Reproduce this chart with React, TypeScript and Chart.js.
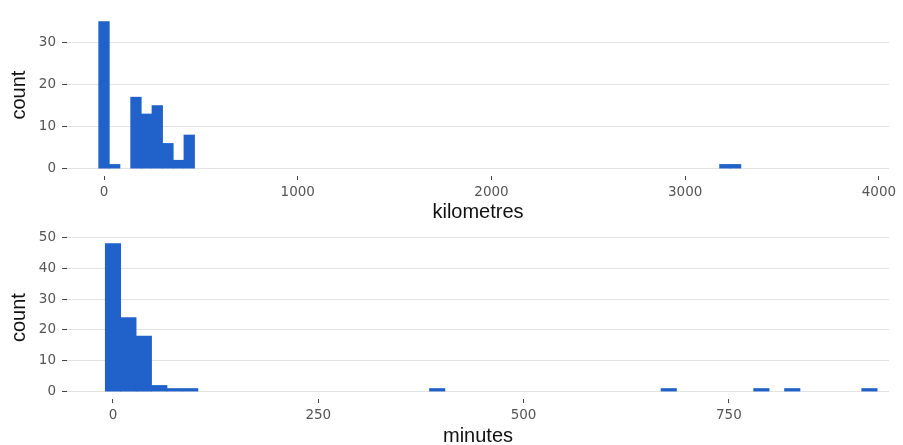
import React, { useEffect, useRef } from "react";
import { Chart, registerables } from "chart.js";

Chart.register(...registerables);

// Top panel: distance histogram (kilometres)
const kmBinCenters = [0, 55, 165, 220, 275, 330, 385, 440, 3205, 3260];
const kmCounts = [35, 1, 17, 13, 15, 6, 2, 8, 1, 1];
const kmTicks = [0, 1000, 2000, 3000, 4000];
const kmCountTicks = [0, 10, 20, 30];

// Bottom panel: duration histogram (minutes)
const minBinCenters = [0, 18.8, 37.6, 56.4, 75.2, 94, 394.8, 676.8, 789.6, 827.2, 921.2];
const minCounts = [48, 24, 18, 2, 1, 1, 1, 1, 1, 1, 1];
const minTicks = [0, 250, 500, 750];
const minCountTicks = [0, 10, 20, 30, 40, 50];

const BAR_COLOR = "#2062C9";
const GRID_COLOR = "#e2e2e2";
const TICK_MARK_COLOR = "#444444";
const TICK_LABEL_COLOR = "#555555";
const TICK_FONT = { family: "'DejaVu Sans', sans-serif", size: 13.5 };
const TITLE_FONT = { family: "'Liberation Sans', Arial, sans-serif", size: 20 };

function makeConfig(
  centers: number[],
  counts: number[],
  xTicks: number[],
  yTicks: number[],
  xMin: number,
  xMax: number,
  yMin: number,
  yMax: number,
  xTitle: string,
  padTop: number,
  titlePadBottom: number
): any {
  return {
    type: "bar",
    data: {
      datasets: [
        {
          data: centers.map((x, i) => ({ x, y: counts[i] })),
          backgroundColor: BAR_COLOR,
          borderWidth: 0,
          barPercentage: 1,
          categoryPercentage: 1,
        },
      ],
    },
    options: {
      responsive: false,
      animation: false,
      events: [],
      layout: { padding: { top: padTop, right: 14, left: 0, bottom: 0 } },
      plugins: { legend: { display: false }, tooltip: { enabled: false } },
      scales: {
        x: {
          type: "linear",
          min: xMin,
          max: xMax,
          offset: false,
          afterBuildTicks: (s: any) => {
            s.ticks = xTicks.map((v) => ({ value: v }));
          },
          afterFit: (s: any) => {
            s.height = 46;
          },
          grid: {
            offset: false,
            drawOnChartArea: false,
            drawTicks: true,
            tickLength: 4,
            tickColor: TICK_MARK_COLOR,
          },
          border: { display: false },
          ticks: {
            color: TICK_LABEL_COLOR,
            font: TICK_FONT,
            padding: 4,
            maxRotation: 0,
            autoSkip: false,
            callback: (v: any) => String(v),
          },
          title: {
            display: true,
            text: xTitle,
            color: "#111111",
            font: TITLE_FONT,
            padding: { top: 0, bottom: titlePadBottom },
          },
        },
        y: {
          type: "linear",
          min: yMin,
          max: yMax,
          afterBuildTicks: (s: any) => {
            s.ticks = yTicks.map((v) => ({ value: v }));
          },
          afterFit: (s: any) => {
            s.width = 67;
          },
          grid: {
            color: GRID_COLOR,
            lineWidth: 1,
            drawTicks: true,
            tickLength: 5,
            tickColor: TICK_MARK_COLOR,
          },
          border: { display: false },
          ticks: {
            color: TICK_LABEL_COLOR,
            font: TICK_FONT,
            padding: 6,
            autoSkip: false,
            callback: (v: any) => String(v),
          },
          title: {
            display: true,
            text: "count",
            color: "#111111",
            font: TITLE_FONT,
            padding: { top: 7, bottom: 0 },
          },
        },
      },
    },
  };
}

function Hist(props: { config: any; top: number; height: number }) {
  const ref = useRef<HTMLCanvasElement | null>(null);
  useEffect(() => {
    if (!ref.current) return;
    const chart = new Chart(ref.current, props.config);
    return () => chart.destroy();
  }, []);
  return (
    <canvas
      ref={ref}
      width={903}
      height={props.height}
      style={{ position: "absolute", left: 0, top: props.top, display: "block" }}
    />
  );
}

export default function App() {
  const topConfig = makeConfig(
    kmBinCenters, kmCounts, kmTicks, kmCountTicks,
    -191, 4052, -1.75, 36.75, "kilometres", 8, -2
  );
  const bottomConfig = makeConfig(
    minBinCenters, minCounts, minTicks, minCountTicks,
    -56, 945, -2.4, 50.4, "minutes", 11, -3
  );
  return (
    <div style={{ position: "absolute", left: 0, top: 0, width: 903, height: 445, background: "#ffffff", overflow: "hidden" }}>
      <Hist config={topConfig} top={0} height={222} />
      <Hist config={bottomConfig} top={222} height={223} />
    </div>
  );
}
